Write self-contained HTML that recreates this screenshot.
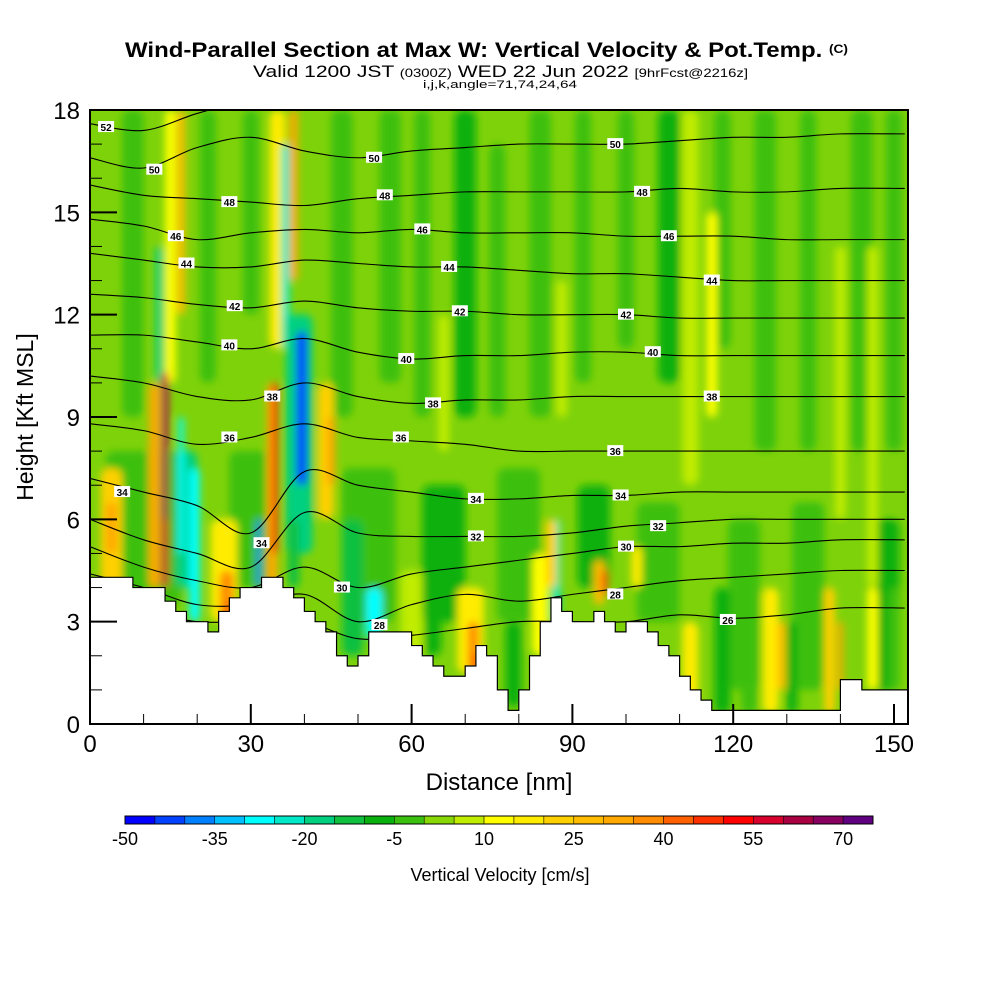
<!DOCTYPE html>
<html><head><meta charset="utf-8">
<style>
html,body{margin:0;padding:0;background:#fff;}
svg{display:block;font-family:"Liberation Sans",Arial,sans-serif;}
</style></head>
<body>
<svg id="chart" width="1000" height="1000" viewBox="0 0 1000 1000">
<defs>
  <clipPath id="plotclip"><rect x="90" y="110" width="818" height="614"/></clipPath>
  <filter id="soft" filterUnits="userSpaceOnUse" x="60" y="80" width="880" height="680"><feGaussianBlur stdDeviation="4"/></filter>
</defs>
<g>
<text x="125" y="57" textLength="723" lengthAdjust="spacingAndGlyphs" font-size="21" font-weight="bold">Wind-Parallel Section at Max W: Vertical Velocity &amp; Pot.Temp. <tspan font-size="12" dy="-4">(C)</tspan></text>
<text x="253" y="77" textLength="495" lengthAdjust="spacingAndGlyphs" font-size="17">Valid 1200 JST <tspan font-size="12">(0300Z)</tspan> WED 22 Jun 2022 <tspan font-size="12">[9hrFcst@2216z]</tspan></text>
<text x="423" y="88" textLength="154" lengthAdjust="spacingAndGlyphs" font-size="11">i,j,k,angle=71,74,24,64</text>
</g>
<rect x="90" y="110" width="818" height="614" fill="#7ed20a"/>
<g id="fieldLayer" clip-path="url(#plotclip)"><g id="fieldBlur" filter="url(#soft)"></g></g>
<g id="contourLayer" clip-path="url(#plotclip)"></g>
<g id="terrainLayer"></g>
<g id="labelLayer" clip-path="url(#plotclip)"></g>
<rect x="90" y="110" width="818" height="614" fill="none" stroke="#000" stroke-width="2"/>
<g id="axisLayer"></g>
<text x="0" y="0" transform="translate(33,417) rotate(-90)" text-anchor="middle" font-size="23">Height [Kft MSL]</text>
<text x="499" y="790" text-anchor="middle" font-size="24">Distance [nm]</text>
<g id="cbLayer"></g>
<text x="500" y="881" text-anchor="middle" font-size="18">Vertical Velocity [cm/s]</text>
</svg>
<script>
// ---- data ----
const cbLevels = [-50,-45,-40,-35,-30,-25,-20,-15,-10,-5,0,5,10,15,20,25,30,35,40,45,50,55,60,65,70,75];
const cbColors = ["#0000ff","#0040ff","#0080ff","#00c0ff","#00ffff","#00e8c8","#00d080","#10c040","#08b010","#3cc010","#88d808","#c0ec00","#ffff00","#ffec00","#ffd000","#ffbc00","#ffa800","#ff8c00","#ff6000","#ff3000","#ff0000","#d8002c","#a80040","#880060","#600080"];
const cbTickLabels = [-50,-35,-20,-5,10,25,40,55,70];
const xTicks = [0,30,60,90,120,150];
const yTicks = [0,3,6,9,12,15,18];
// terrain height (kft) every 2 nm from 0
const terrainKft = [4.3,4.3,4.3,4.3,4.0,4.0,4.0,3.6,3.3,3.0,3.0,2.7,3.3,3.7,4.0,4.0,4.3,4.3,4.0,3.7,3.3,3.0,2.7,2.0,1.7,2.0,2.7,2.7,2.7,2.7,2.3,2.0,1.7,1.4,1.4,1.7,2.3,2.0,1.0,0.4,1.0,2.0,3.0,3.7,3.3,3.0,3.0,3.3,3.0,2.7,3.0,3.0,2.7,2.3,2.0,1.4,1.0,0.7,0.4,0.4,0.4,0.4,0.4,0.4,0.4,0.4,0.4,0.4,0.4,0.4,1.3,1.3,1.0,1.0,1.0,1.0,1.0];
// velocity features: [nm center, width nm, bottom kft, top kft, value cm/s]
const features = [
 [10,14,3.5,8,-3],[30,8,4,8,-3],[52,10,3,7.5,-3],[66,8,3,7,-8],[80,8,3,7.5,-3],[94,6,4,7,-8],[106,8,3,6.5,-3],[122,6,1,6,-3],[134,6,1,6.5,-3],[148,6,1,6,-8],
 [8,4,9,18,-3],[22,3,10,18,-3],[30,3,12,18,-3],[47,4,9,18,-3],[56,4,10,18,-3],[62,3,9,18,-3],[70,4,9,18,-7],[76,3,9,17,-3],[84,4,9,18,-3],[92,3,10,18,-3],[100,3,11,18,-3],[108,4,10,18,-7],[118,3,11,18,-3],[126,4,8,18,-3],[134,3,8,18,-3],[144,4,8,18,-3],[150,3,8,18,-3],
 [15,2,10,18,12],[17,1.5,12,18,25],[35,3,11,18,15],[38,1.5,13,18,30],[112,3,7,18,8],[116,2,9,15,12],[140,2,6,14,8],[146,2,4,14,8],[88,2,9,13,8],[66,2,8,12,8],
 [36.5,1.5,11,17,-25],[13,1.5,10,14,-20],
 [4,4,3.5,7.5,20],[4,2,5,6.5,30],
 [12,2,4,10,30],[14,1.2,4,10.3,55],[14,0.6,6,10,68],
 [18,4,4,8,-17],[19.5,2,3,7.5,-28],[17,1,5,9,-30],
 [25,5,3,6,15],[25.5,2.5,3,4.5,35],[26,1,3,3.6,45],
 [31.5,0.7,4,6,-40],[34,2,4,10,30],[34.5,1,5,10,50],
 [39,5,5,12,-20],[39.5,2,7,11.5,-42],[38,2,4,6,-12],
 [44,3,6,10,20],[45,1.5,7,9,30],
 [49,4,2,6,-14],[53,3,2.5,4,-27],
 [60,4,2,4.5,5],[64,3,2,4,-10],[71,5,1.5,4,15],[71.5,2,1.5,3,35],[72,1,1.5,2.1,50],
 [79,3,0.5,3,-10],[84,3,2,5,10],[87,1.5,3,6,-25],[86,2,4,6,20],[95,2,3.5,4.8,25],[96,1,3.8,4.5,45],[102,2,4,5.2,15],
 [112,3,0.3,3,15],[118,3,0.3,4,-8],[123,3,0.3,4,-5],[127,3,0.3,4,15],[129,1.5,1,3,25],[131,2,0.3,3,-10],[138,2,0.3,4,20],[140,1,1,3,30],[146,2,1,4,10],[150,2,1,4,-5]
];
// potential temperature contours: heights (kft) at these nm nodes
const contourNodes = [0,10,20,30,40,50,60,70,80,90,100,110,120,130,140,152];
const thetaLevels = [26,28,30,32,34,36,38,40,42,44,46,48,50,52];
const h26 = [3.6,3.3,3.0,3.0,3.0,2.5,2.6,2.8,3.0,3.0,3.0,3.2,3.1,3.2,3.4,3.4];
const h28 = [4.4,4.0,3.5,3.5,3.8,3.0,3.5,3.8,3.6,3.8,4.0,4.2,4.3,4.4,4.5,4.5];
const h30 = [5.2,4.6,4.2,4.0,4.6,4.0,4.4,4.6,4.8,5.0,5.2,5.2,5.3,5.3,5.4,5.4];
const h32 = [6.0,5.4,5.0,4.6,6.2,5.6,5.5,5.5,5.5,5.6,5.8,5.9,6.0,6.0,6.0,6.0];
const h34 = [7.2,6.8,6.4,5.6,7.4,7.0,6.8,6.6,6.6,6.7,6.7,6.8,6.8,6.8,6.8,6.8];
const h36 = [8.8,8.6,8.2,8.4,8.8,8.4,8.3,8.2,8.0,8.0,8.0,8.0,8.0,8.0,8.0,8.0];
const h38 = [10.2,10.0,9.6,9.5,10.0,9.6,9.4,9.5,9.5,9.6,9.6,9.6,9.6,9.6,9.6,9.6];
const h40 = [11.4,11.4,11.2,11.0,11.3,10.9,10.7,10.8,10.8,10.9,10.9,10.8,10.8,10.8,10.8,10.8];
const h42 = [12.6,12.5,12.3,12.2,12.4,12.2,12.1,12.1,12.0,12.0,12.0,11.9,11.9,11.9,11.9,11.9];
const h44 = [13.8,13.6,13.4,13.4,13.6,13.5,13.4,13.4,13.3,13.2,13.2,13.1,13.0,13.0,13.0,13.0];
const h46 = [14.8,14.6,14.2,14.4,14.5,14.4,14.5,14.4,14.4,14.4,14.3,14.3,14.3,14.2,14.2,14.2];
const h48 = [15.8,15.5,15.4,15.3,15.2,15.4,15.5,15.6,15.6,15.6,15.6,15.7,15.6,15.6,15.7,15.7];
const h50 = [16.6,16.3,16.9,17.2,16.8,16.6,16.8,16.9,17.0,17.0,17.0,17.1,17.2,17.2,17.3,17.3];
const h52 = [17.6,17.4,17.9,18.3,18.6,18.8,19,19,19,19,19,19,19,19,19,19];
const thetaHeights = [h26,h28,h30,h32,h34,h36,h38,h40,h42,h44,h46,h48,h50,h52];
// labels: [text, nm, kft]
const contourLabels = [["52",3,17.5],["50",12,16.25],["50",53,16.6],["50",98,17.0],["48",26,15.3],["48",55,15.5],["48",103,15.6],
 ["46",16,14.3],["46",62,14.5],["46",108,14.3],["44",18,13.5],["44",67,13.4],["44",116,13.0],["42",27,12.25],["42",69,12.1],["42",100,12.0],
 ["40",26,11.1],["40",59,10.7],["40",105,10.9],["38",34,9.6],["38",64,9.4],["38",116,9.6],["36",26,8.4],["36",58,8.4],["36",98,8.0],
 ["34",6,6.8],["34",32,5.3],["34",72,6.6],["34",99,6.7],["32",72,5.5],["32",106,5.8],["30",47,4.0],["30",100,5.2],["28",54,2.9],["28",98,3.8],["26",119,3.05]];

// ---- axis functions ----
const X0=90, X1=908, Y0=724, Y1=110;
const sx = nm => X0 + nm*(160.8/30);
const sy = k => Y0 - k*(614/18);
const NS="http://www.w3.org/2000/svg";
function mk(tag, attrs, parent){const e=document.createElementNS(NS,tag);for(const k in attrs)e.setAttribute(k,attrs[k]);parent.appendChild(e);return e;}
function colorOf(v){for(let i=0;i<cbColors.length;i++){if(v<cbLevels[i+1])return cbColors[i];}return cbColors[cbColors.length-1];}

// field
const fb=document.getElementById('fieldBlur');
features.forEach(f=>{
  const r=mk('rect',{x:sx(f[0]-f[1]/2),y:sy(f[3]),width:sx(f[1])-X0,height:sy(f[2])-sy(f[3]),rx:Math.min(8,(sx(f[1])-X0)/2),fill:colorOf(f[4])},fb);
  
  
});

// contours
const cl=document.getElementById('contourLayer');
thetaLevels.forEach((lv,i)=>{
  const h=thetaHeights[i];
  const pts=contourNodes.map((n,j)=>[sx(n),sy(h[j])]);
  let d='M'+pts[0][0]+','+pts[0][1];
  for(let j=0;j<pts.length-1;j++){
    const p0=pts[Math.max(0,j-1)],p1=pts[j],p2=pts[j+1],p3=pts[Math.min(pts.length-1,j+2)];
    const c1=[p1[0]+(p2[0]-p0[0])/6,p1[1]+(p2[1]-p0[1])/6],c2=[p2[0]-(p3[0]-p1[0])/6,p2[1]-(p3[1]-p1[1])/6];
    d+=' C'+c1[0]+','+c1[1]+' '+c2[0]+','+c2[1]+' '+p2[0]+','+p2[1];
  }
  const p=mk('path',{d:d,fill:'none',stroke:'#000','stroke-width':1.1},cl);
  
  
});

// terrain
const tl=document.getElementById('terrainLayer');
let td='M'+X0+','+Y0;
terrainKft.forEach((k,i)=>{const xa=sx(i*2), xb=Math.min(X1,sx(i*2+2)); td+=' L'+xa+','+sy(k)+' L'+xb+','+sy(k);});
td+=' L'+X1+','+Y0+' Z';
const tp=mk('path',{d:td,fill:'#fff',stroke:'#000','stroke-width':1.2},tl);



// labels
const ll=document.getElementById('labelLayer');
contourLabels.forEach(l=>{
  const x=sx(l[1]),y=sy(l[2]);
  const g=mk('g',{},ll);
  
  
  mk('rect',{x:x-8,y:y-6,width:16,height:11,fill:'#fff'},g);
  const t=mk('text',{x:x,y:y+4,'text-anchor':'middle','font-size':10,'font-weight':'bold'},g);
  t.textContent=l[0];
});

// axes
const al=document.getElementById('axisLayer');
for(let n=0;n<=150;n+=10){
  const major=n%30===0;
  const t=mk('line',{x1:sx(n),x2:sx(n),y1:Y0,y2:Y0-(major?20:10),stroke:'#000','stroke-width':major?2:1},al);
  
  
}
for(let k=0;k<=18;k++){
  const major=k%3===0;
  const t=mk('line',{x1:X0,x2:X0+(major?27:12),y1:sy(k),y2:sy(k),stroke:'#000','stroke-width':major?2:1},al);
  
  
}
xTicks.forEach(v=>{
  const t=mk('text',{x:sx(v),y:752,'text-anchor':'middle','font-size':24},al);
  
  
  t.textContent=v;
});
yTicks.forEach(v=>{
  const t=mk('text',{x:80,y:sy(v)+9,'text-anchor':'end','font-size':24},al);
  
  
  t.textContent=v;
});

// colorbar
const cb=document.getElementById('cbLayer');
const cbX=125, cbW=748, cbY=816, cbH=8;
const cx = v => cbX + (v-cbLevels[0])/(cbLevels[cbLevels.length-1]-cbLevels[0])*cbW;
cbColors.forEach((c,i)=>{
  const r=mk('rect',{x:cx(cbLevels[i]),y:cbY,width:cx(cbLevels[i+1])-cx(cbLevels[i]),height:cbH,fill:c,stroke:'#000','stroke-width':0.5},cb);
  
  
});
mk('rect',{x:cbX,y:cbY,width:cbW,height:cbH,fill:'none',stroke:'#000','stroke-width':1},cb);
cbTickLabels.forEach(v=>{
  const t=mk('text',{x:cx(v),y:845,'text-anchor':'middle','font-size':18},cb);
  
  
  t.textContent=v;
});
</script>
</body></html>
